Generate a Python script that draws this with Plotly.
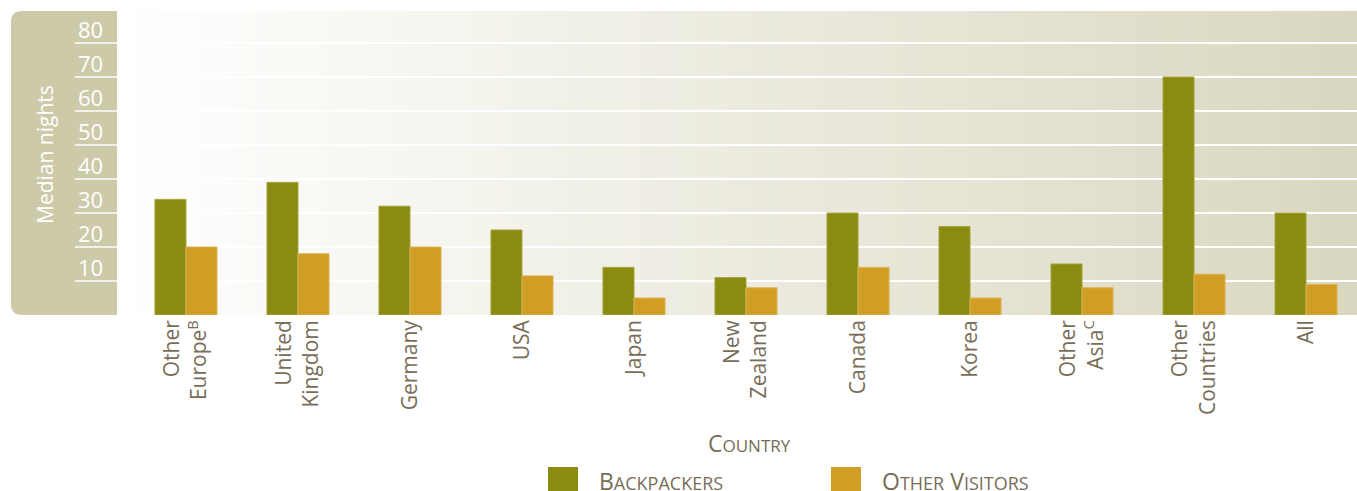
import plotly.graph_objects as go

# ---- data ----
categories = ["Other<br>Europe<sup>B</sup>", "United<br>Kingdom", "Germany", "USA", "Japan",
              "New<br>Zealand", "Canada", "Korea", "Other<br>Asia<sup>C</sup>",
              "Other<br>Countries", "All"]
backpackers = [34, 39, 32, 25, 14, 11, 30, 26, 15, 70, 30]
other_visitors = [20, 18, 20, 11.5, 5, 8, 14, 5, 8, 12, 9]
series_names = ["Backpackers", "Other Visitors"]
y_ticks = [10, 20, 30, 40, 50, 60, 70, 80]
y_title = "Median nights"
x_title = "Country"

# ---- geometry helpers (pixel -> paper) ----
W, H = 1357, 491
ML, MR, MT, MB = 118, 0, 11, 176
PW = W - ML - MR
PH = H - MT - MB


def xp(px):
    return (px - ML) / PW


def yp(py):
    return (H - MB - py) / PH


TEXT = "#786d57"
OLIVE = "#8a8b10"
GOLD = "#d19d22"
PANEL = "#cdcaa9"
FONT = "Open Sans"


def small_caps(s, small):
    parts = []
    for w in s.split(" "):
        parts.append(w[0].upper() + "<span style='font-size:%dpx'>%s</span>" % (small, w[1:].upper()))
    return " ".join(parts)


fig = go.Figure()
fig.add_trace(go.Bar(x=list(range(len(categories))), y=backpackers, name=series_names[0],
                     marker=dict(color=OLIVE, line=dict(color="#a3a43c", width=1))))
fig.add_trace(go.Bar(x=list(range(len(categories))), y=other_visitors, name=series_names[1],
                     marker=dict(color=GOLD, line=dict(color="#deb357", width=1))))

shapes = []
# gradient background of plot area
N = 90
c0 = (255, 255, 255)
c1 = (218, 215, 192)
for i in range(N):
    t = (i + 0.5) / N
    col = tuple(round(c0[k] + (c1[k] - c0[k]) * t) for k in range(3))
    shapes.append(dict(type="rect", xref="paper", yref="paper", x0=i / N, x1=(i + 1) / N + 0.001,
                       y0=0, y1=1, fillcolor="rgb(%d,%d,%d)" % col, line=dict(width=0), layer="below"))

# left rounded panel
x0, x1 = xp(11), xp(117)
y0, y1 = 0, 1
rx, ry = 11 / PW, 11 / PH
path = (f"M {x1},{y1} L {x0 + rx},{y1} Q {x0},{y1} {x0},{y1 - ry} "
        f"L {x0},{y0 + ry} Q {x0},{y0} {x0 + rx},{y0} L {x1},{y0} Z")
shapes.append(dict(type="path", xref="paper", yref="paper", path=path,
                   fillcolor=PANEL, line=dict(width=0), layer="below"))
for v in y_ticks:
    shapes.append(dict(type="line", xref="paper", yref="y", x0=xp(75), x1=xp(117), y0=v, y1=v,
                       line=dict(color="white", width=1.5), layer="above"))

annotations = []
for v in y_ticks:
    annotations.append(dict(xref="paper", yref="y", x=xp(76), y=v, text=str(v), showarrow=False,
                            xanchor="left", yanchor="middle", yshift=14,
                            font=dict(family=FONT, size=22, color="white")))
annotations.append(dict(xref="paper", yref="paper", x=xp(45), y=yp(155), text=y_title, textangle=-90,
                        showarrow=False, xanchor="center", yanchor="middle",
                        font=dict(family=FONT, size=21, color="white")))
annotations.append(dict(xref="paper", yref="paper", x=xp(749), y=yp(443),
                        text=small_caps(x_title, 17), showarrow=False,
                        xanchor="center", yanchor="middle",
                        font=dict(family=FONT, size=23, color=TEXT)))

# legend (manual)
leg_x = [548, 831]
for i, (name, col) in enumerate(zip(series_names, [OLIVE, GOLD])):
    shapes.append(dict(type="rect", xref="paper", yref="paper", x0=xp(leg_x[i]), x1=xp(leg_x[i] + 30),
                       y0=yp(495), y1=yp(467), fillcolor=col, line=dict(width=0), layer="above"))
    annotations.append(dict(xref="paper", yref="paper", x=xp(leg_x[i] + 49), y=yp(481),
                            text=small_caps(name, 18), showarrow=False,
                            xanchor="left", yanchor="middle",
                            font=dict(family=FONT, size=23, color=TEXT)))

fig.update_layout(
    width=W, height=H,
    margin=dict(l=ML, r=MR, t=MT, b=MB, pad=0),
    paper_bgcolor="white",
    plot_bgcolor="rgba(0,0,0,0)",
    barmode="group",
    bargap=0.446,
    bargroupgap=0,
    showlegend=False,
    shapes=shapes,
    annotations=annotations,
    xaxis=dict(range=[-0.607, 10.455], tickmode="array", tickvals=list(range(len(categories))),
               ticktext=categories, tickangle=-90, showgrid=False, zeroline=False, showline=False,
               ticks="", tickfont=dict(family=FONT, size=21, color=TEXT), fixedrange=True),
    yaxis=dict(range=[0, 89.4], tickmode="array", tickvals=y_ticks, showticklabels=False,
               showgrid=True, gridcolor="white", gridwidth=1.5, zeroline=False, showline=False,
               ticks="", fixedrange=True),
)

fig.write_html("out.html", config={"displayModeBar": False},
               post_script="document.body.style.margin='0';document.body.style.overflow='hidden';")
